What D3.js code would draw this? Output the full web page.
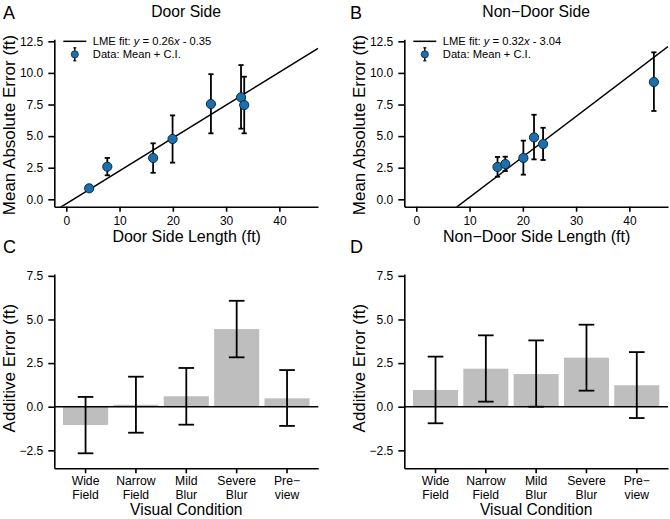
<!DOCTYPE html>
<html>
<head>
<meta charset="utf-8">
<script src="https://cdn.jsdelivr.net/npm/d3@7"></script>
<style>
  html, body { margin: 0; padding: 0; background: #fff; }
  svg { display: block; font-family: "Liberation Sans", Arial, Helvetica, sans-serif; }
</style>
</head>
<body>
<svg id="chart" width="670" height="519"></svg>
<script>
// ---------- DATA ----------
const doorX  = [4.3, 7.7, 16.3, 19.95, 27.15, 32.8, 33.4];
const doorY  = [0.87, 2.58, 3.27, 4.77, 7.54, 8.07, 7.46];
const doorLo = [0.7, 1.9, 2.1, 2.9, 5.22, 5.59, 5.22];
const doorHi = [1.05, 3.27, 4.43, 6.64, 9.9, 10.62, 9.7];

const nonDoorX  = [15.25, 16.7, 20.1, 22.1, 23.8, 44.6];
const nonDoorY  = [2.56, 2.79, 3.27, 4.9, 4.37, 9.28];
const nonDoorLo = [1.79, 2.24, 1.95, 3.16, 3.11, 6.99];
const nonDoorHi = [3.35, 3.37, 4.64, 6.69, 5.66, 11.63];

const fitDoor    = [0.26, -0.35];   // slope, intercept
const fitNonDoor = [0.32, -3.04];

const scatterXTicks = [0, 10, 20, 30, 40];
const scatterYTicks = [0, 2.5, 5, 7.5, 10, 12.5];
const barYTicks = [-2.5, 0, 2.5, 5, 7.5];

const conditions = ["Wide Field", "Narrow Field", "Mild Blur", "Severe Blur", "Pre−view"];
const conditionLines = [["Wide", "Field"], ["Narrow", "Field"], ["Mild", "Blur"], ["Severe", "Blur"], ["Pre−", "view"]];

const doorBar   = [-1.05, 0.11, 0.6, 4.45, 0.48];
const doorBarLo = [-2.67, -1.49, -1.03, 2.83, -1.1];
const doorBarHi = [0.56, 1.72, 2.22, 6.07, 2.1];

const nonDoorBar   = [0.96, 2.18, 1.87, 2.81, 1.23];
const nonDoorBarLo = [-0.95, 0.29, 0.0, 0.92, -0.65];
const nonDoorBarHi = [2.87, 4.09, 3.8, 4.7, 3.13];

// ---------- STYLE ----------
const FONT_TICK = 12, FONT_CAT = 12.2, FONT_XLAB = 16, FONT_VC = 15.6, FONT_YLAB = 17, FONT_TITLE = 15.7, FONT_LETTER = 18, FONT_LEG = 11.2;
const POINT_FILL = "#1b6fae", POINT_STROKE = "#0b2a42", BAR_FILL = "#bebebe";
const AXW = 1.6;

const svg = d3.select("#chart");
const fmt1 = d3.format(".1f");

function styleAxis(g) {
  g.select(".domain").attr("stroke", "#000").attr("stroke-width", AXW);
  g.selectAll(".tick line").attr("stroke", "#000").attr("stroke-width", AXW);
  g.selectAll(".tick text").attr("fill", "#000").attr("font-size", FONT_TICK).attr("font-family", null);
}

function scatterPanel(opts) {
  const {x0, x1, yTop, yBot, xs, ys, lo, hi, fit, title, xlabel, letter, letterX, ylabX, id} = opts;
  const x = d3.scaleLinear().domain([-2.25, 47.25]).range([x0, x1]);
  const y = d3.scaleLinear().domain([-0.585, 12.66]).range([yBot, yTop]);
  const g = svg.append("g");

  svg.append("clipPath").attr("id", id).append("rect")
    .attr("x", x0).attr("y", yTop).attr("width", x1 - x0).attr("height", yBot - yTop);

  g.append("g").attr("transform", `translate(0,${yBot})`)
    .call(d3.axisBottom(x).tickValues(scatterXTicks).tickFormat(d3.format("d")).tickSize(5).tickSizeOuter(0).tickPadding(5))
    .call(styleAxis);
  g.append("g").attr("transform", `translate(${x0},0)`)
    .call(d3.axisLeft(y).tickValues(scatterYTicks).tickFormat(fmt1).tickSize(6).tickSizeOuter(0).tickPadding(5))
    .call(styleAxis);

  const xd = x.domain();
  g.append("line").attr("clip-path", `url(#${id})`)
    .attr("x1", x(xd[0])).attr("y1", y(fit[0] * xd[0] + fit[1]))
    .attr("x2", x(xd[1])).attr("y2", y(fit[0] * xd[1] + fit[1]))
    .attr("stroke", "#000").attr("stroke-width", 1.5);

  const cap = 2.6;
  xs.forEach((xv, i) => {
    const eb = g.append("g").attr("stroke", "#000").attr("stroke-width", 1.8);
    eb.append("line").attr("x1", x(xv)).attr("x2", x(xv)).attr("y1", y(lo[i])).attr("y2", y(hi[i]));
    eb.append("line").attr("x1", x(xv) - cap).attr("x2", x(xv) + cap).attr("y1", y(lo[i])).attr("y2", y(lo[i]));
    eb.append("line").attr("x1", x(xv) - cap).attr("x2", x(xv) + cap).attr("y1", y(hi[i])).attr("y2", y(hi[i]));
  });
  g.selectAll("circle.pt").data(xs).enter().append("circle")
    .attr("cx", d => x(d)).attr("cy", (d, i) => y(ys[i])).attr("r", 4.6)
    .attr("fill", POINT_FILL).attr("stroke", POINT_STROKE).attr("stroke-width", 1);

  // legend
  const ly1 = y(12.5), ly2 = ly1 + 13;
  const lx0 = x0 + 9, lx1 = x0 + 32, ltx = x0 + 38.5;
  g.append("line").attr("x1", lx0).attr("x2", lx1).attr("y1", ly1).attr("y2", ly1).attr("stroke", "#000").attr("stroke-width", 1.5);
  const lt = g.append("text").attr("x", ltx).attr("y", ly1 + 4).attr("font-size", FONT_LEG);
  lt.append("tspan").text("LME fit: ");
  lt.append("tspan").attr("font-style", "italic").text("y");
  lt.append("tspan").text(` = ${fit[0].toFixed(2)}`);
  lt.append("tspan").attr("font-style", "italic").text("x");
  lt.append("tspan").text(` - ${Math.abs(fit[1]).toFixed(2)}`);
  const lcx = (lx0 + lx1) / 2;
  g.append("line").attr("x1", lcx).attr("x2", lcx).attr("y1", ly2 - 6.5).attr("y2", ly2 + 6.5).attr("stroke", "#000").attr("stroke-width", 1.4);
  g.append("line").attr("x1", lcx - 1.5).attr("x2", lcx + 1.5).attr("y1", ly2 - 6.5).attr("y2", ly2 - 6.5).attr("stroke", "#000").attr("stroke-width", 1.2);
  g.append("line").attr("x1", lcx - 1.5).attr("x2", lcx + 1.5).attr("y1", ly2 + 6.5).attr("y2", ly2 + 6.5).attr("stroke", "#000").attr("stroke-width", 1.2);
  g.append("circle").attr("cx", lcx).attr("cy", ly2).attr("r", 3.6).attr("fill", POINT_FILL).attr("stroke", POINT_STROKE).attr("stroke-width", 0.8);
  g.append("text").attr("x", ltx).attr("y", ly2 + 4).attr("font-size", FONT_LEG).text("Data: Mean + C.I.");

  const cx = (x0 + x1) / 2;
  g.append("text").attr("x", cx).attr("y", 17.3).attr("text-anchor", "middle").attr("font-size", FONT_TITLE).text(title);
  g.append("text").attr("x", cx + 0.5).attr("y", 241.5).attr("text-anchor", "middle").attr("font-size", FONT_XLAB).text(xlabel);
  g.append("text").attr("transform", `translate(${ylabX},${(yTop + yBot) / 2 + 2}) rotate(-90)`)
    .attr("text-anchor", "middle").attr("font-size", FONT_YLAB).text("Mean Absolute Error (ft)");
  g.append("text").attr("x", letterX).attr("y", 18.7).attr("font-size", FONT_LETTER).text(letter);
}

function barPanel(opts) {
  const {x0, x1, vals, lo, hi, letter, letterX, ylabX} = opts;
  const yTop = 274.1, yBot = 468.3;
  const x = d3.scaleBand().domain(conditions).range([x0, x1]).paddingInner(0.105).paddingOuter(0.173);
  const y = d3.scaleLinear().domain([-3.53, 7.6]).range([yBot, yTop]);
  const g = svg.append("g");

  g.selectAll("rect.bar").data(conditions).enter().append("rect")
    .attr("x", d => x(d)).attr("width", x.bandwidth())
    .attr("y", (d, i) => y(Math.max(0, vals[i])))
    .attr("height", (d, i) => Math.abs(y(vals[i]) - y(0)))
    .attr("fill", BAR_FILL);

  const xa = g.append("g").attr("transform", `translate(0,${yBot})`)
    .call(d3.axisBottom(x).tickSize(5).tickSizeOuter(0).tickFormat(""))
    .call(styleAxis);
  xa.selectAll(".tick text").remove();
  conditions.forEach((c, i) => {
    const cx = x(c) + x.bandwidth() / 2;
    const t = g.append("text").attr("text-anchor", "middle").attr("font-size", FONT_CAT);
    conditionLines[i].forEach((ln, j) => {
      t.append("tspan").attr("x", cx).attr("y", 485.3 + j * 13.7).text(ln);
    });
  });
  g.append("g").attr("transform", `translate(${x0},0)`)
    .call(d3.axisLeft(y).tickValues(barYTicks).tickFormat(fmt1).tickSize(6).tickSizeOuter(0).tickPadding(5))
    .call(styleAxis);

  g.append("line").attr("x1", x0).attr("x2", x1).attr("y1", y(0)).attr("y2", y(0))
    .attr("stroke", "#000").attr("stroke-width", 1.5);

  const cap = 7.8;
  conditions.forEach((c, i) => {
    const cx = x(c) + x.bandwidth() / 2;
    const eb = g.append("g").attr("stroke", "#000").attr("stroke-width", 1.8);
    eb.append("line").attr("x1", cx).attr("x2", cx).attr("y1", y(lo[i])).attr("y2", y(hi[i]));
    eb.append("line").attr("x1", cx - cap).attr("x2", cx + cap).attr("y1", y(lo[i])).attr("y2", y(lo[i]));
    eb.append("line").attr("x1", cx - cap).attr("x2", cx + cap).attr("y1", y(hi[i])).attr("y2", y(hi[i]));
  });

  g.append("text").attr("x", (x0 + x1) / 2).attr("y", 515.2).attr("text-anchor", "middle").attr("font-size", FONT_VC).text("Visual Condition");
  g.append("text").attr("transform", `translate(${ylabX},${(yTop + yBot) / 2 - 3}) rotate(-90)`)
    .attr("text-anchor", "middle").attr("font-size", FONT_YLAB).text("Additive Error (ft)");
  g.append("text").attr("x", letterX).attr("y", 253).attr("font-size", FONT_LETTER).text(letter);
}

scatterPanel({x0: 54.3, x1: 318, yTop: 39.3, yBot: 206.7, xs: doorX, ys: doorY, lo: doorLo, hi: doorHi,
  fit: fitDoor, title: "Door Side", xlabel: "Door Side Length (ft)", letter: "A", letterX: 3, ylabX: 15, id: "clipA"});
scatterPanel({x0: 404.3, x1: 668, yTop: 39.3, yBot: 206.7, xs: nonDoorX, ys: nonDoorY, lo: nonDoorLo, hi: nonDoorHi,
  fit: fitNonDoor, title: "Non−Door Side", xlabel: "Non−Door Side Length (ft)", letter: "B", letterX: 350, ylabX: 365, id: "clipB"});
barPanel({x0: 54.3, x1: 318.3, vals: doorBar, lo: doorBarLo, hi: doorBarHi, letter: "C", letterX: 3, ylabX: 15});
barPanel({x0: 404.3, x1: 668, vals: nonDoorBar, lo: nonDoorBarLo, hi: nonDoorBarHi, letter: "D", letterX: 350, ylabX: 365});
</script>
</body>
</html>
